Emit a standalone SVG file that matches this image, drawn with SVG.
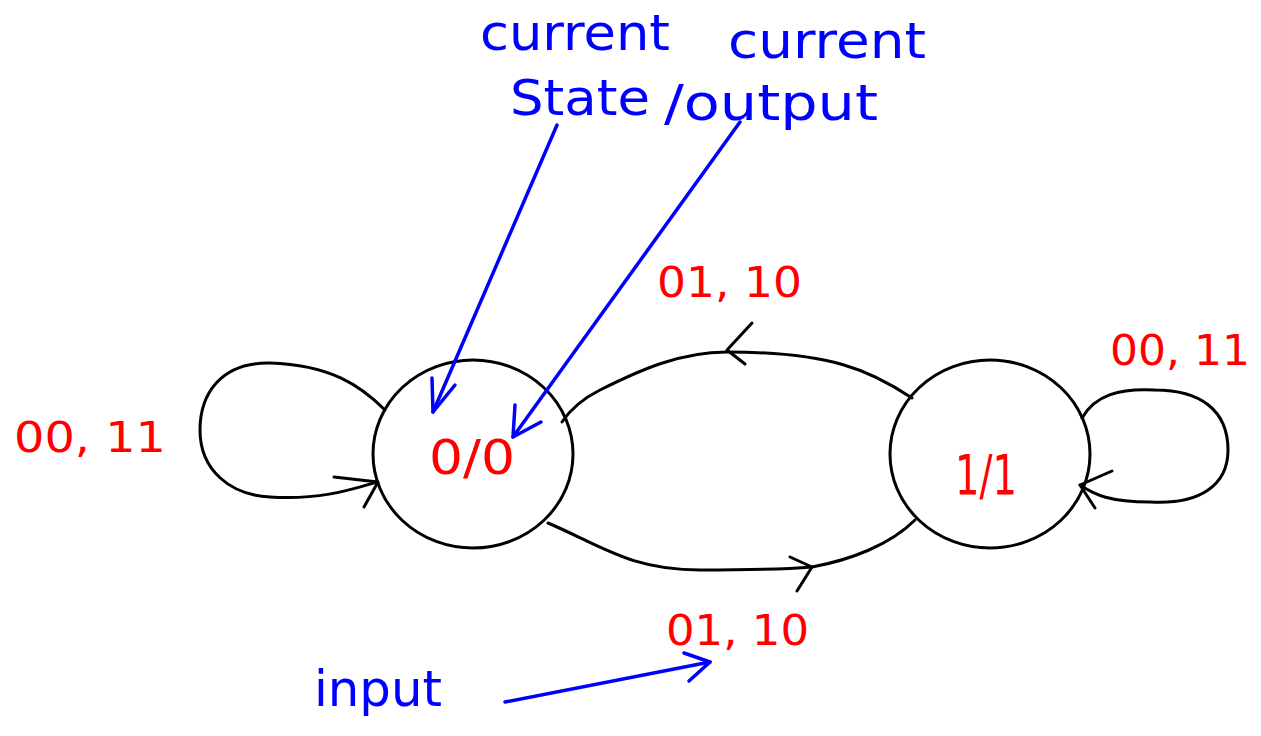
<svg xmlns="http://www.w3.org/2000/svg" width="1261" height="736" viewBox="0 0 1261 736">
<style>
.st{fill:none;stroke:#000;stroke-width:3;stroke-linecap:round;stroke-linejoin:round}
.bl{fill:none;stroke:#0000ff;stroke-width:3.5;stroke-linecap:round;stroke-linejoin:round}
.red{fill:#ff0000;font-family:"DejaVu Sans","Liberation Sans",sans-serif;font-size:42px}
.blue{fill:#0000ff;font-family:"DejaVu Sans","Liberation Sans",sans-serif;font-size:50px}
.node{fill:none;stroke:#000;stroke-width:3}
</style>
<rect width="1261" height="736" fill="#fff"/>
<g id="node-00">
  <ellipse class="node" cx="473" cy="454" rx="100" ry="94"/>
  <text class="red" x="472" y="474" text-anchor="middle" style="font-size:48px" textLength="86" lengthAdjust="spacingAndGlyphs">0/0</text>
</g>
<g id="node-11">
  <ellipse class="node" cx="990" cy="454" rx="100" ry="94"/>
  <text class="red" x="986" y="494" text-anchor="middle" style="font-size:56px" textLength="62" lengthAdjust="spacingAndGlyphs">1/1</text>
</g>
<g id="connectors">
  <path class="st" d="M912 398 C870 370 830 352 727 352 C680 352 640 370 600 390 C580 400 570 410 562 422"/>
  <path class="st" d="M752 323 L727 350 L745 364"/>
  <path class="st" d="M548 523 C600 545 630 570 700 570 C770 570 800 568 812 567 C850 560 890 545 915 520"/>
  <path class="st" d="M790 557 L812 567 L797 591"/>
  <path class="st" d="M385 410 C360 385 330 365 270 363 C220 362 200 395 200 430 C200 470 230 495 270 497 C320 500 350 490 377 482"/>
  <path class="st" d="M334 477 L378 482 L364 507"/>
  <path class="st" d="M1082 418 C1095 395 1120 388 1155 390 C1200 390 1228 410 1228 450 C1228 485 1200 505 1150 502 C1110 502 1095 495 1080 485"/>
  <path class="st" d="M1112 471 L1080 485 L1095 508"/>
  <path class="bl" d="M557 125 L433 412"/>
  <path class="bl" d="M432 378 L433 412 L455 385"/>
  <path class="bl" d="M740 122 L513 437"/>
  <path class="bl" d="M515 405 L513 437 L541 422"/>
  <path class="bl" d="M505 702 L710 662"/>
  <path class="bl" d="M684 653 L710 662 L689 681"/>
</g>
<g id="labels">
  <text class="red" x="14" y="452" textLength="152" lengthAdjust="spacingAndGlyphs">00, 11</text>
  <text class="red" x="657" y="297" textLength="145" lengthAdjust="spacingAndGlyphs">01, 10</text>
  <text class="red" x="1110" y="365" textLength="140" lengthAdjust="spacingAndGlyphs">00, 11</text>
  <text class="red" x="666" y="645" textLength="143" lengthAdjust="spacingAndGlyphs">01, 10</text>
  <text class="blue" x="480" y="50" textLength="190" lengthAdjust="spacingAndGlyphs">current</text>
  <text class="blue" x="510" y="115" textLength="140" lengthAdjust="spacingAndGlyphs">State</text>
  <text class="blue" x="728" y="58" textLength="198" lengthAdjust="spacingAndGlyphs">current</text>
  <text class="blue" x="664" y="120" textLength="214" lengthAdjust="spacingAndGlyphs">/output</text>
  <text class="blue" x="314" y="706" textLength="128" lengthAdjust="spacingAndGlyphs">input</text>
</g>
</svg>
